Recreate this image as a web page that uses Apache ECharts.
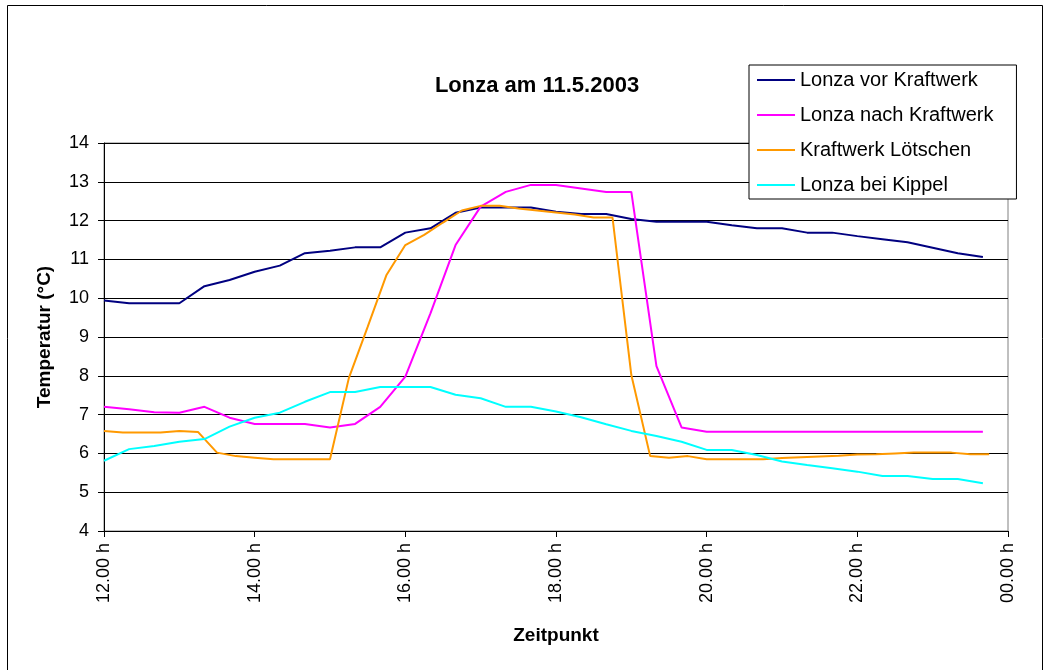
<!DOCTYPE html>
<html>
<head>
<meta charset="utf-8">
<script src="https://cdn.jsdelivr.net/npm/echarts@6/dist/echarts.min.js"></script>
<style>
  html, body { margin: 0; padding: 0; background: #fff; }
  #container { width: 1044px; height: 670px; }
</style>
</head>
<body>
<div id="container"></div>
<script>
// Messzeitpunkte (20-Minuten-Raster)
var times20 = [
  '12:00', '12:20', '12:40', '13:00', '13:20', '13:40', '14:00', '14:20', '14:40',
  '15:00', '15:20', '15:40', '16:00', '16:20', '16:40', '17:00', '17:20', '17:40',
  '18:00', '18:20', '18:40', '19:00', '19:20', '19:40', '20:00', '20:20', '20:40',
  '21:00', '21:20', '21:40', '22:00', '22:20', '22:40', '23:00', '23:20', '23:40'
];
// Kraftwerk Lötschen misst alle 15 Minuten
var times15 = [
  '12:00', '12:15', '12:30', '12:45', '13:00', '13:15', '13:30', '13:45',
  '14:00', '14:15', '14:30', '14:45', '15:00', '15:15', '15:30', '15:45',
  '16:00', '16:15', '16:30', '16:45', '17:00', '17:15', '17:30', '17:45',
  '18:00', '18:15', '18:30', '18:45', '19:00', '19:15', '19:30', '19:45',
  '20:00', '20:15', '20:30', '20:45', '21:00', '21:15', '21:30', '21:45',
  '22:00', '22:15', '22:30', '22:45', '23:00', '23:15', '23:30', '23:45'
];

var lonzaVor = [
  9.94, 9.87, 9.87, 9.87, 10.31, 10.47, 10.68, 10.84, 11.16,
  11.22, 11.31, 11.31, 11.69, 11.80, 12.20, 12.34, 12.34, 12.34,
  12.23, 12.17, 12.17, 12.04, 11.97, 11.97, 11.97, 11.88, 11.80,
  11.80, 11.69, 11.69, 11.60, 11.52, 11.44, 11.30, 11.16, 11.06
];
var lonzaNach = [
  7.20, 7.14, 7.06, 7.05, 7.20, 6.92, 6.76, 6.76, 6.76,
  6.67, 6.76, 7.20, 7.98, 9.61, 11.37, 12.36, 12.74, 12.92,
  12.92, 12.83, 12.74, 12.74, 8.25, 6.67, 6.56, 6.56, 6.56,
  6.56, 6.56, 6.56, 6.56, 6.56, 6.56, 6.56, 6.56, 6.56
];
var loetschen = [
  6.58, 6.54, 6.54, 6.54, 6.58, 6.55, 6.02, 5.93,
  5.89, 5.85, 5.85, 5.85, 5.85, 7.94, 9.26, 10.60,
  11.37, 11.63, 11.95, 12.26, 12.38, 12.38, 12.31, 12.26,
  12.21, 12.16, 12.08, 12.08, 8.02, 5.93, 5.89, 5.93,
  5.85, 5.85, 5.85, 5.85, 5.88, 5.90, 5.92, 5.94,
  5.97, 5.98, 6.00, 6.02, 6.02, 6.02, 5.98, 5.98
];
var kippel = [
  5.81, 6.11, 6.19, 6.30, 6.37, 6.69, 6.92, 7.05, 7.33,
  7.58, 7.58, 7.71, 7.71, 7.71, 7.51, 7.42, 7.20, 7.20,
  7.08, 6.93, 6.75, 6.58, 6.45, 6.30, 6.09, 6.09, 5.96,
  5.79, 5.70, 5.62, 5.53, 5.42, 5.42, 5.34, 5.34, 5.23
];

var seriesNames = ['Lonza vor Kraftwerk', 'Lonza nach Kraftwerk', 'Kraftwerk Lötschen', 'Lonza bei Kippel'];
var seriesColors = ['#000080', '#FF00FF', '#FF9900', '#00FFFF'];

var FONT = '"Liberation Sans", Arial, sans-serif';

function toHours(t) {
    var p = t.split(':');
    return parseInt(p[0], 10) + parseInt(p[1], 10) / 60;
}

function pairs(times, values) {
    return values.map(function (v, i) {
        return [toHours(times[i]), v];
    });
}

function makeSeries(idx, times, values) {
    return {
        name: seriesNames[idx],
        type: 'line',
        data: pairs(times, values),
        symbol: 'none',
        lineStyle: { color: seriesColors[idx], width: 2 },
        itemStyle: { color: seriesColors[idx] },
        animation: false
    };
}

var myChart = echarts.init(document.getElementById('container'));

myChart.setOption({
    backgroundColor: '#fff',
    animation: false,
    title: {
        text: 'Lonza am 11.5.2003',
        left: 532,
        top: 70,
        textAlign: 'center',
        textStyle: { fontFamily: FONT, fontSize: 22, fontWeight: 'bold', color: '#000' }
    },
    legend: {
        orient: 'vertical',
        left: 749,
        top: 65,
        padding: [5, 23, 4, 8],
        itemGap: 15,
        itemWidth: 38,
        itemHeight: 2,
        icon: 'rect',
        borderColor: '#000',
        borderWidth: 1,
        backgroundColor: '#fff',
        data: seriesNames,
        textStyle: { fontFamily: FONT, fontSize: 20, color: '#000' }
    },
    grid: {
        left: 104,
        right: 36,
        top: 143,
        bottom: 139,
        show: true,
        borderColor: '#808080',
        borderWidth: 1
    },
    xAxis: {
        type: 'value',
        min: 12,
        max: 24,
        interval: 2,
        name: 'Zeitpunkt',
        nameLocation: 'middle',
        nameGap: 95,
        nameTextStyle: { fontFamily: FONT, fontSize: 19, fontWeight: 'bold', color: '#000' },
        axisLine: { show: true, lineStyle: { color: '#000', width: 1 } },
        axisTick: { show: true, length: 6, lineStyle: { color: '#000' } },
        splitLine: { show: false },
        axisLabel: {
            rotate: 90,
            margin: 12,
            fontFamily: FONT,
            fontSize: 18,
            color: '#000',
            formatter: function (v) {
                var h = v % 24;
                return (h < 10 ? '0' : '') + h + '.00 h';
            }
        }
    },
    yAxis: {
        type: 'value',
        min: 4,
        max: 14,
        interval: 1,
        name: 'Temperatur (°C)',
        nameLocation: 'middle',
        nameGap: 50,
        nameTextStyle: { fontFamily: FONT, fontSize: 19, fontWeight: 'bold', color: '#000' },
        axisLine: { show: true, lineStyle: { color: '#000', width: 1 } },
        axisTick: { show: true, length: 6, lineStyle: { color: '#000' } },
        splitLine: { show: true, lineStyle: { color: '#000', width: 1 } },
        axisLabel: { margin: 15, fontFamily: FONT, fontSize: 18, color: '#000' }
    },
    graphic: [{
        type: 'rect',
        shape: { x: 7.5, y: 5.5, width: 1035, height: 700 },
        style: { fill: 'none', stroke: '#000', lineWidth: 1 },
        silent: true
    }],
    series: [
        makeSeries(0, times20, lonzaVor),
        makeSeries(1, times20, lonzaNach),
        makeSeries(2, times15, loetschen),
        makeSeries(3, times20, kippel)
    ]
});
</script>
</body>
</html>
